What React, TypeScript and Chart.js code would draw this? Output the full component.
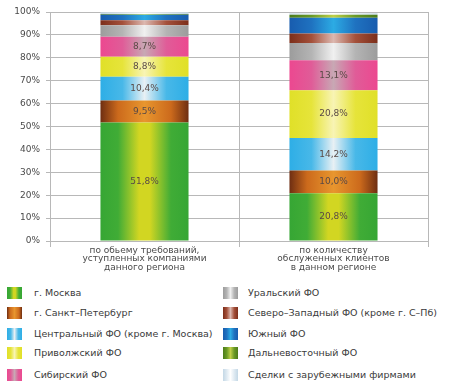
import React, { useEffect, useRef } from 'react';
import { Chart, registerables } from 'chart.js';
Chart.register(...registerables);

const categories: string[][] = [
  ['по обьему требований,', 'уступленных компаниями', 'данного региона'],
  ['по количеству', 'обслуженных клиентов', 'в данном регионе'],
];

const regionNames = [
  'г. Москва',
  'г. Санкт–Петербург',
  'Центральный ФО (кроме г. Москва)',
  'Приволжский ФО',
  'Сибирский ФО',
  'Уральский ФО',
  'Северо–Западный ФО (кроме г. С–Пб)',
  'Южный ФО',
  'Дальневосточный ФО',
  'Сделки с зарубежными фирмами',
];

const moscow = [51.8, 20.8];
const spb = [9.5, 10.0];
const central = [10.4, 14.2];
const volga = [8.8, 20.8];
const siberia = [8.7, 13.1];
const ural = [5.0, 7.6];
const northwest = [2.2, 4.1];
const south = [2.4, 6.9];
const farEast = [0.3, 1.3];
const foreign = [0.8, 0.6];

const seriesValues = [moscow, spb, central, volga, siberia, ural, northwest, south, farEast, foreign];

const valueLabels: (string | null)[][] = [
  ['51,8%', '20,8%'],
  ['9,5%', '10,0%'],
  ['10,4%', '14,2%'],
  ['8,8%', '20,8%'],
  ['8,7%', '13,1%'],
  [null, null],
  [null, null],
  [null, null],
  [null, null],
  [null, null],
];

const yTickValues = [0, 10, 20, 30, 40, 50, 60, 70, 80, 90, 100];

// gradient stops: [offset, color]
const palettes: [number, string][][] = [
  [[0, '#36a634'], [0.2, '#40ac36'], [0.44, '#d2d622'], [0.56, '#d2d622'], [0.8, '#40ac36'], [1, '#36a634']],
  [[0, '#6e2e12'], [0.2, '#cc6a1c'], [0.5, '#e8962e'], [0.8, '#cc6a1c'], [1, '#6e2e12']],
  [[0, '#2eaee6'], [0.25, '#48b8e8'], [0.5, '#e8f0f4'], [0.75, '#48b8e8'], [1, '#2eaee6']],
  [[0, '#e0e028'], [0.25, '#e6e43a'], [0.5, '#f8f4b4'], [0.75, '#e6e43a'], [1, '#e0e028']],
  [[0, '#ec4890'], [0.25, '#e05c98'], [0.5, '#c8a8b4'], [0.75, '#e05c98'], [1, '#ec4890']],
  [[0, '#9c9c9c'], [0.25, '#b4b4b4'], [0.5, '#f0f0f0'], [0.75, '#b4b4b4'], [1, '#9c9c9c']],
  [[0, '#7c2e1a'], [0.25, '#a4503a'], [0.5, '#dcb8b0'], [0.75, '#a4503a'], [1, '#7c2e1a']],
  [[0, '#185cae'], [0.25, '#1f72c0'], [0.5, '#2cabe4'], [0.75, '#1f72c0'], [1, '#185cae']],
  [[0, '#4c7c1a'], [0.25, '#6a9a26'], [0.5, '#c0d048'], [0.75, '#6a9a26'], [1, '#4c7c1a']],
  [[0, '#c4d8e6'], [0.25, '#dfeaf2'], [0.5, '#ffffff'], [0.75, '#dfeaf2'], [1, '#c4d8e6']],
];

const BAR_PCT = 0.466;
const FONT = "'DejaVu Sans', Verdana, sans-serif";

function cssGradient(stops: [number, string][]) {
  return 'linear-gradient(to right, ' + stops.map(([o, c]) => `${c} ${Math.round(o * 100)}%`).join(', ') + ')';
}

const valueLabelPlugin = {
  id: 'valueLabels',
  afterDatasetsDraw(chart: any) {
    const ctx = chart.ctx;
    ctx.save();
    ctx.font = `9px ${FONT}`;
    ctx.fillStyle = '#5a4a46';
    ctx.textAlign = 'center';
    ctx.textBaseline = 'middle';
    chart.data.datasets.forEach((ds: any, di: number) => {
      const meta = chart.getDatasetMeta(di);
      meta.data.forEach((el: any, i: number) => {
        const t = valueLabels[di][i];
        if (!t) return;
        ctx.fillText(t, el.x, (el.y + el.base) / 2);
      });
    });
    ctx.restore();
  },
};

export default function App() {
  const ref = useRef<HTMLCanvasElement | null>(null);
  useEffect(() => {
    if (!ref.current) return;
    const chart = new Chart(ref.current, {
      type: 'bar',
      data: {
        labels: categories as any,
        datasets: seriesValues.map((vals, di) => ({
          label: regionNames[di],
          data: vals,
          borderWidth: 0,
          backgroundColor: (c: any) => {
            const ch = c.chart;
            const xs = ch.scales && ch.scales.x;
            if (!xs || c.type !== 'data' || !isFinite(xs.width)) return palettes[di][0][1];
            const cx = xs.getPixelForValue(c.dataIndex);
            const half = (xs.width / categories.length) * BAR_PCT / 2;
            if (!isFinite(cx) || !isFinite(half) || half <= 0) return palettes[di][0][1];
            const g = ch.ctx.createLinearGradient(cx - half, 0, cx + half, 0);
            palettes[di].forEach(([o, col]) => g.addColorStop(o, col));
            return g;
          },
        })),
      },
      options: {
        animation: false,
        responsive: false,
        maintainAspectRatio: false,
        layout: { padding: { top: 12, right: 22, left: 0, bottom: 0 } },
        datasets: { bar: { categoryPercentage: 1, barPercentage: BAR_PCT } },
        plugins: { legend: { display: false }, tooltip: { enabled: false } },
        scales: {
          x: {
            stacked: true,
            afterFit: (s: any) => { s.height = 39; },
            grid: { offset: true, color: '#b8b8b8', tickLength: 6, drawTicks: true },
            border: { color: '#b8b8b8' },
            ticks: {
              color: '#4a4a4a',
              font: { family: FONT, size: 9, lineHeight: 0.9 },
              padding: 0,
              maxRotation: 0,
              autoSkip: false,
            },
          },
          y: {
            stacked: true,
            min: 0,
            max: 100,
            afterFit: (s: any) => { s.width = 50; },
            afterBuildTicks: (s: any) => { s.ticks = yTickValues.map((v) => ({ value: v })); },
            grid: { color: '#b8b8b8', tickLength: 4 },
            border: { color: '#b8b8b8' },
            ticks: {
              color: '#4a4a4a',
              font: { family: FONT, size: 9 },
              padding: 6,
              callback: (v: any) => `${v}%`,
            },
          },
        },
      },
      plugins: [valueLabelPlugin],
    });
    return () => chart.destroy();
  }, []);

  const rowTops = [287, 307, 328, 347, 369];
  return (
    <div style={{ position: 'absolute', left: 0, top: 0, width: 450, height: 390, background: '#fff', fontFamily: FONT }}>
      <canvas ref={ref} width={450} height={280} style={{ position: 'absolute', left: 0, top: 0, width: 450, height: 280 }} />
      {regionNames.map((name, i) => {
        const col = i < 5 ? 0 : 1;
        const row = i % 5;
        const boxLeft = col === 0 ? 7 : 223;
        const textLeft = col === 0 ? 34 : 248;
        return (
          <div key={name}>
            <div
              style={{
                position: 'absolute',
                left: boxLeft,
                top: rowTops[row],
                width: 15,
                height: 12,
                background: cssGradient(palettes[i]),
              }}
            />
            <div
              style={{
                position: 'absolute',
                left: textLeft,
                top: rowTops[row] - 1,
                fontSize: 9.5,
                lineHeight: '14px',
                color: '#3a3a3a',
                whiteSpace: 'nowrap',
              }}
            >
              {name}
            </div>
          </div>
        );
      })}
    </div>
  );
}
